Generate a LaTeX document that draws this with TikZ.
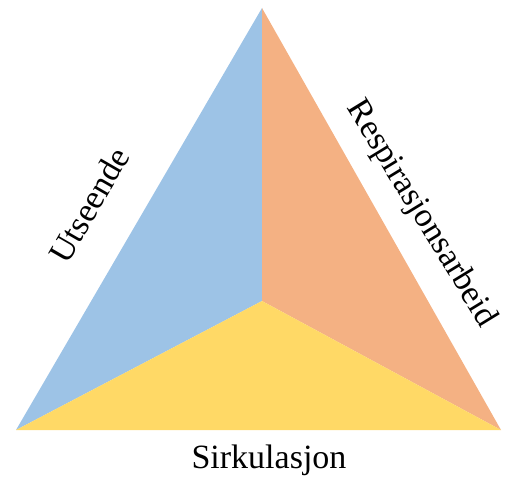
\documentclass[tikz,border=0pt]{standalone}
\usepackage{fontspec}
\setmainfont{Liberation Serif}
\usetikzlibrary{positioning}
\definecolor{skyblue}{HTML}{9DC3E6}
\definecolor{peach}{HTML}{F4B183}
\definecolor{butter}{HTML}{FFD966}

\begin{document}
\begin{tikzpicture}[x=1pt,y=-1pt,
  part/.style={line join=round},
  lbl/.style={font=\fontsize{34}{40}\selectfont,inner sep=0pt}]
\useasboundingbox (0,0) rectangle (506,487);
\coordinate (top)   at (262,8);
\coordinate (left)  at (16,430);
\coordinate (right) at (501,430);
\coordinate (mid)   at (262,301);
\fill[part,skyblue] (top) -- (mid) -- (left) -- cycle;
\fill[part,peach]   (top) -- (right) -- (mid) -- cycle;
\fill[part,butter]  (left) -- (mid) -- (right) -- cycle;
\node[lbl,rotate=60]  (look) at (89,205)  {Utseende};
\node[lbl,rotate=-58.5] (resp) at (421,214) {Respirasjonsarbeid};
\node[lbl,anchor=base] (circ) at (269,468) {Sirkulasjon};
\end{tikzpicture}
\end{document}
